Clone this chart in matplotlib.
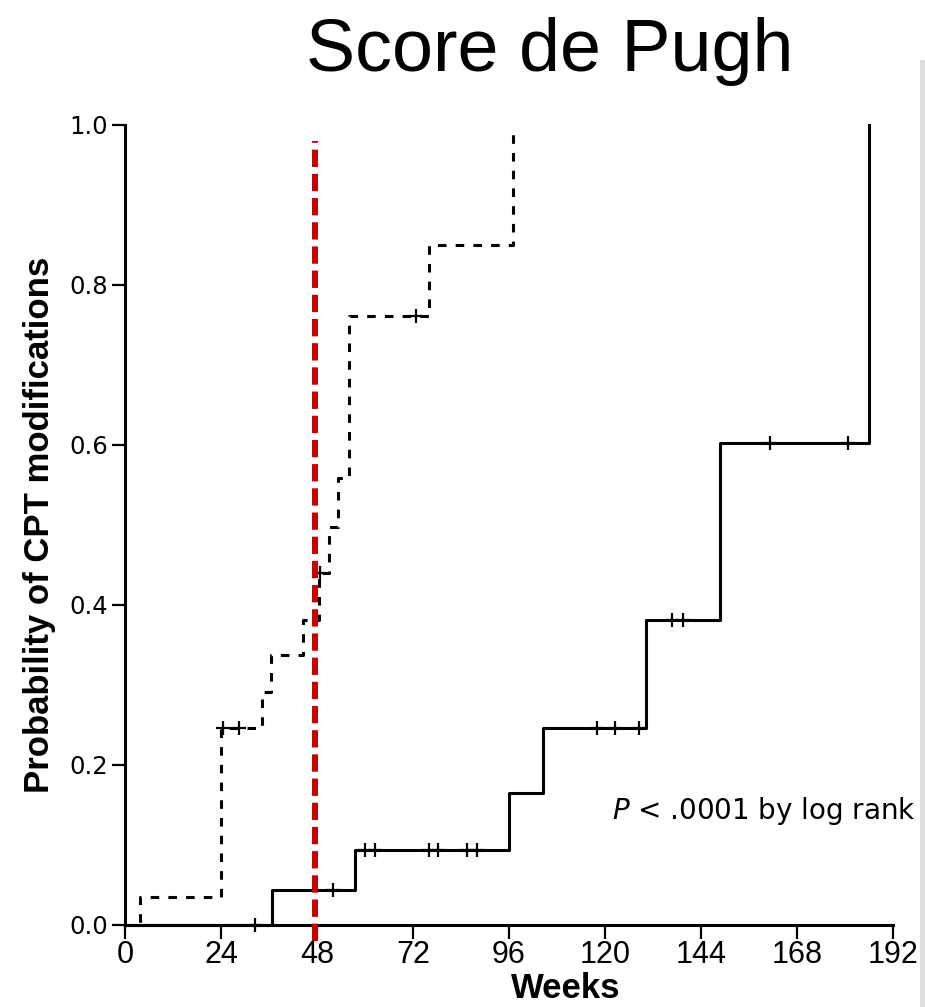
import matplotlib
matplotlib.use("Agg")
import matplotlib.pyplot as plt
from matplotlib.patches import Rectangle

# ---- data ----
title_text = "Score de Pugh"
x_label = "Weeks"
y_label = "Probability of CPT modifications"
p_text = r"$\mathit{P}$ < .0001 by log rank"

x_ticks = [0, 24, 48, 72, 96, 120, 144, 168, 192]
x_tick_labels = ["0", "24", "48", "72", "96", "120", "144", "168", "192"]
y_ticks = [0.0, 0.2, 0.4, 0.6, 0.8, 1.0]
y_tick_labels = ["0.0", "0.2", "0.4", "0.6", "0.8", "1.0"]

# dashed group (step curve, cumulative probability)
dash_times = [0, 3.75, 24, 34.25, 36.5, 44.5, 48.5, 51, 53.25, 56, 76, 97]
dash_probs = [0, 0.035, 0.246, 0.291, 0.337, 0.381, 0.44, 0.4975, 0.559, 0.761, 0.85, 0.995]
dash_cens_t = [24.4, 28.5, 48.8, 72.75]
dash_cens_p = [0.246, 0.246, 0.44, 0.761]

# solid group
solid_times = [0, 36.75, 57.5, 96, 104.5, 130.2, 148.75, 186]
solid_probs = [0, 0.044, 0.094, 0.165, 0.246, 0.381, 0.603, 1.0]
solid_cens_t = [32.4, 52, 60.1, 62.4, 75.9, 78.2, 85.4, 88.1, 118.1, 122.6, 128.6,
                136.7, 139.6, 161.25, 180.75]
solid_cens_p = [0, 0.044, 0.094, 0.094, 0.094, 0.094, 0.094, 0.094, 0.246, 0.246, 0.246,
                0.381, 0.381, 0.603, 0.603]

ref_week = 47.6

# ---- figure ----
fig = plt.figure(figsize=(9.25, 10.07), dpi=100)
ax = fig.add_axes([125/925, 1-925/1007, 768/925, 800/1007])

ax.step(dash_times, dash_probs, where="post", color="black", lw=2.2,
        linestyle=(0, (2.8, 3.0)), clip_on=False, zorder=3)
ax.plot(dash_cens_t, dash_cens_p, linestyle="none", marker="+", color="black",
        markersize=10, markeredgewidth=1.6, clip_on=False, zorder=3)

ax.step(solid_times, solid_probs, where="post", color="black", lw=2.2,
        clip_on=False, zorder=3)
ax.plot(solid_cens_t, solid_cens_p, linestyle="none", marker="+", color="black",
        markersize=10, markeredgewidth=1.6, clip_on=False, zorder=3)

ax.axvline(ref_week, ymin=-0.02, ymax=0.98, color="#c80000", lw=4.3,
           linestyle=(0, (2.9, 1.15)), clip_on=False, zorder=4)

ax.set_xlim(0, 192)
ax.set_ylim(0, 1)
for s in ["top", "right"]:
    ax.spines[s].set_visible(False)
for s in ["left", "bottom"]:
    ax.spines[s].set_linewidth(2.2)

ax.set_xticks(x_ticks, labels=x_tick_labels, fontsize=22,
              fontfamily=["Liberation Sans Narrow", "Liberation Sans"])
ax.set_yticks(y_ticks, labels=y_tick_labels, fontsize=17.5, fontfamily="DejaVu Sans")
ax.tick_params(axis="x", length=10, width=1.6, pad=1, colors="black")
ax.tick_params(axis="y", length=9.5, width=1.6, pad=2.5, colors="black")

ax.set_xlabel(x_label, fontsize=25, fontweight="bold", fontfamily="Liberation Sans",
              va="center", ha="center")
ax.xaxis.set_label_coords((566-125)/768, -(989-925)/800)
ax.set_ylabel(y_label, fontsize=25, fontweight="bold", fontfamily="Liberation Sans",
              va="center", ha="center", rotation=90)
ax.yaxis.set_label_coords((40-125)/768, 0.5)

ax.text(121.7, 0.142, p_text, fontsize=20, fontfamily="DejaVu Sans",
        ha="left", va="center", clip_on=False)

fig.text(550/925, 1-71/1007, title_text, fontsize=53, fontfamily="Liberation Sans",
         ha="center", va="baseline")

# grey strip at the right edge of the screenshot
fig.add_artist(Rectangle((920/925, 0), 5/925, 1-60/1007, transform=fig.transFigure,
                         facecolor="#dedede", edgecolor="none", zorder=10))

fig.savefig("out.png", dpi=100, facecolor="white")
